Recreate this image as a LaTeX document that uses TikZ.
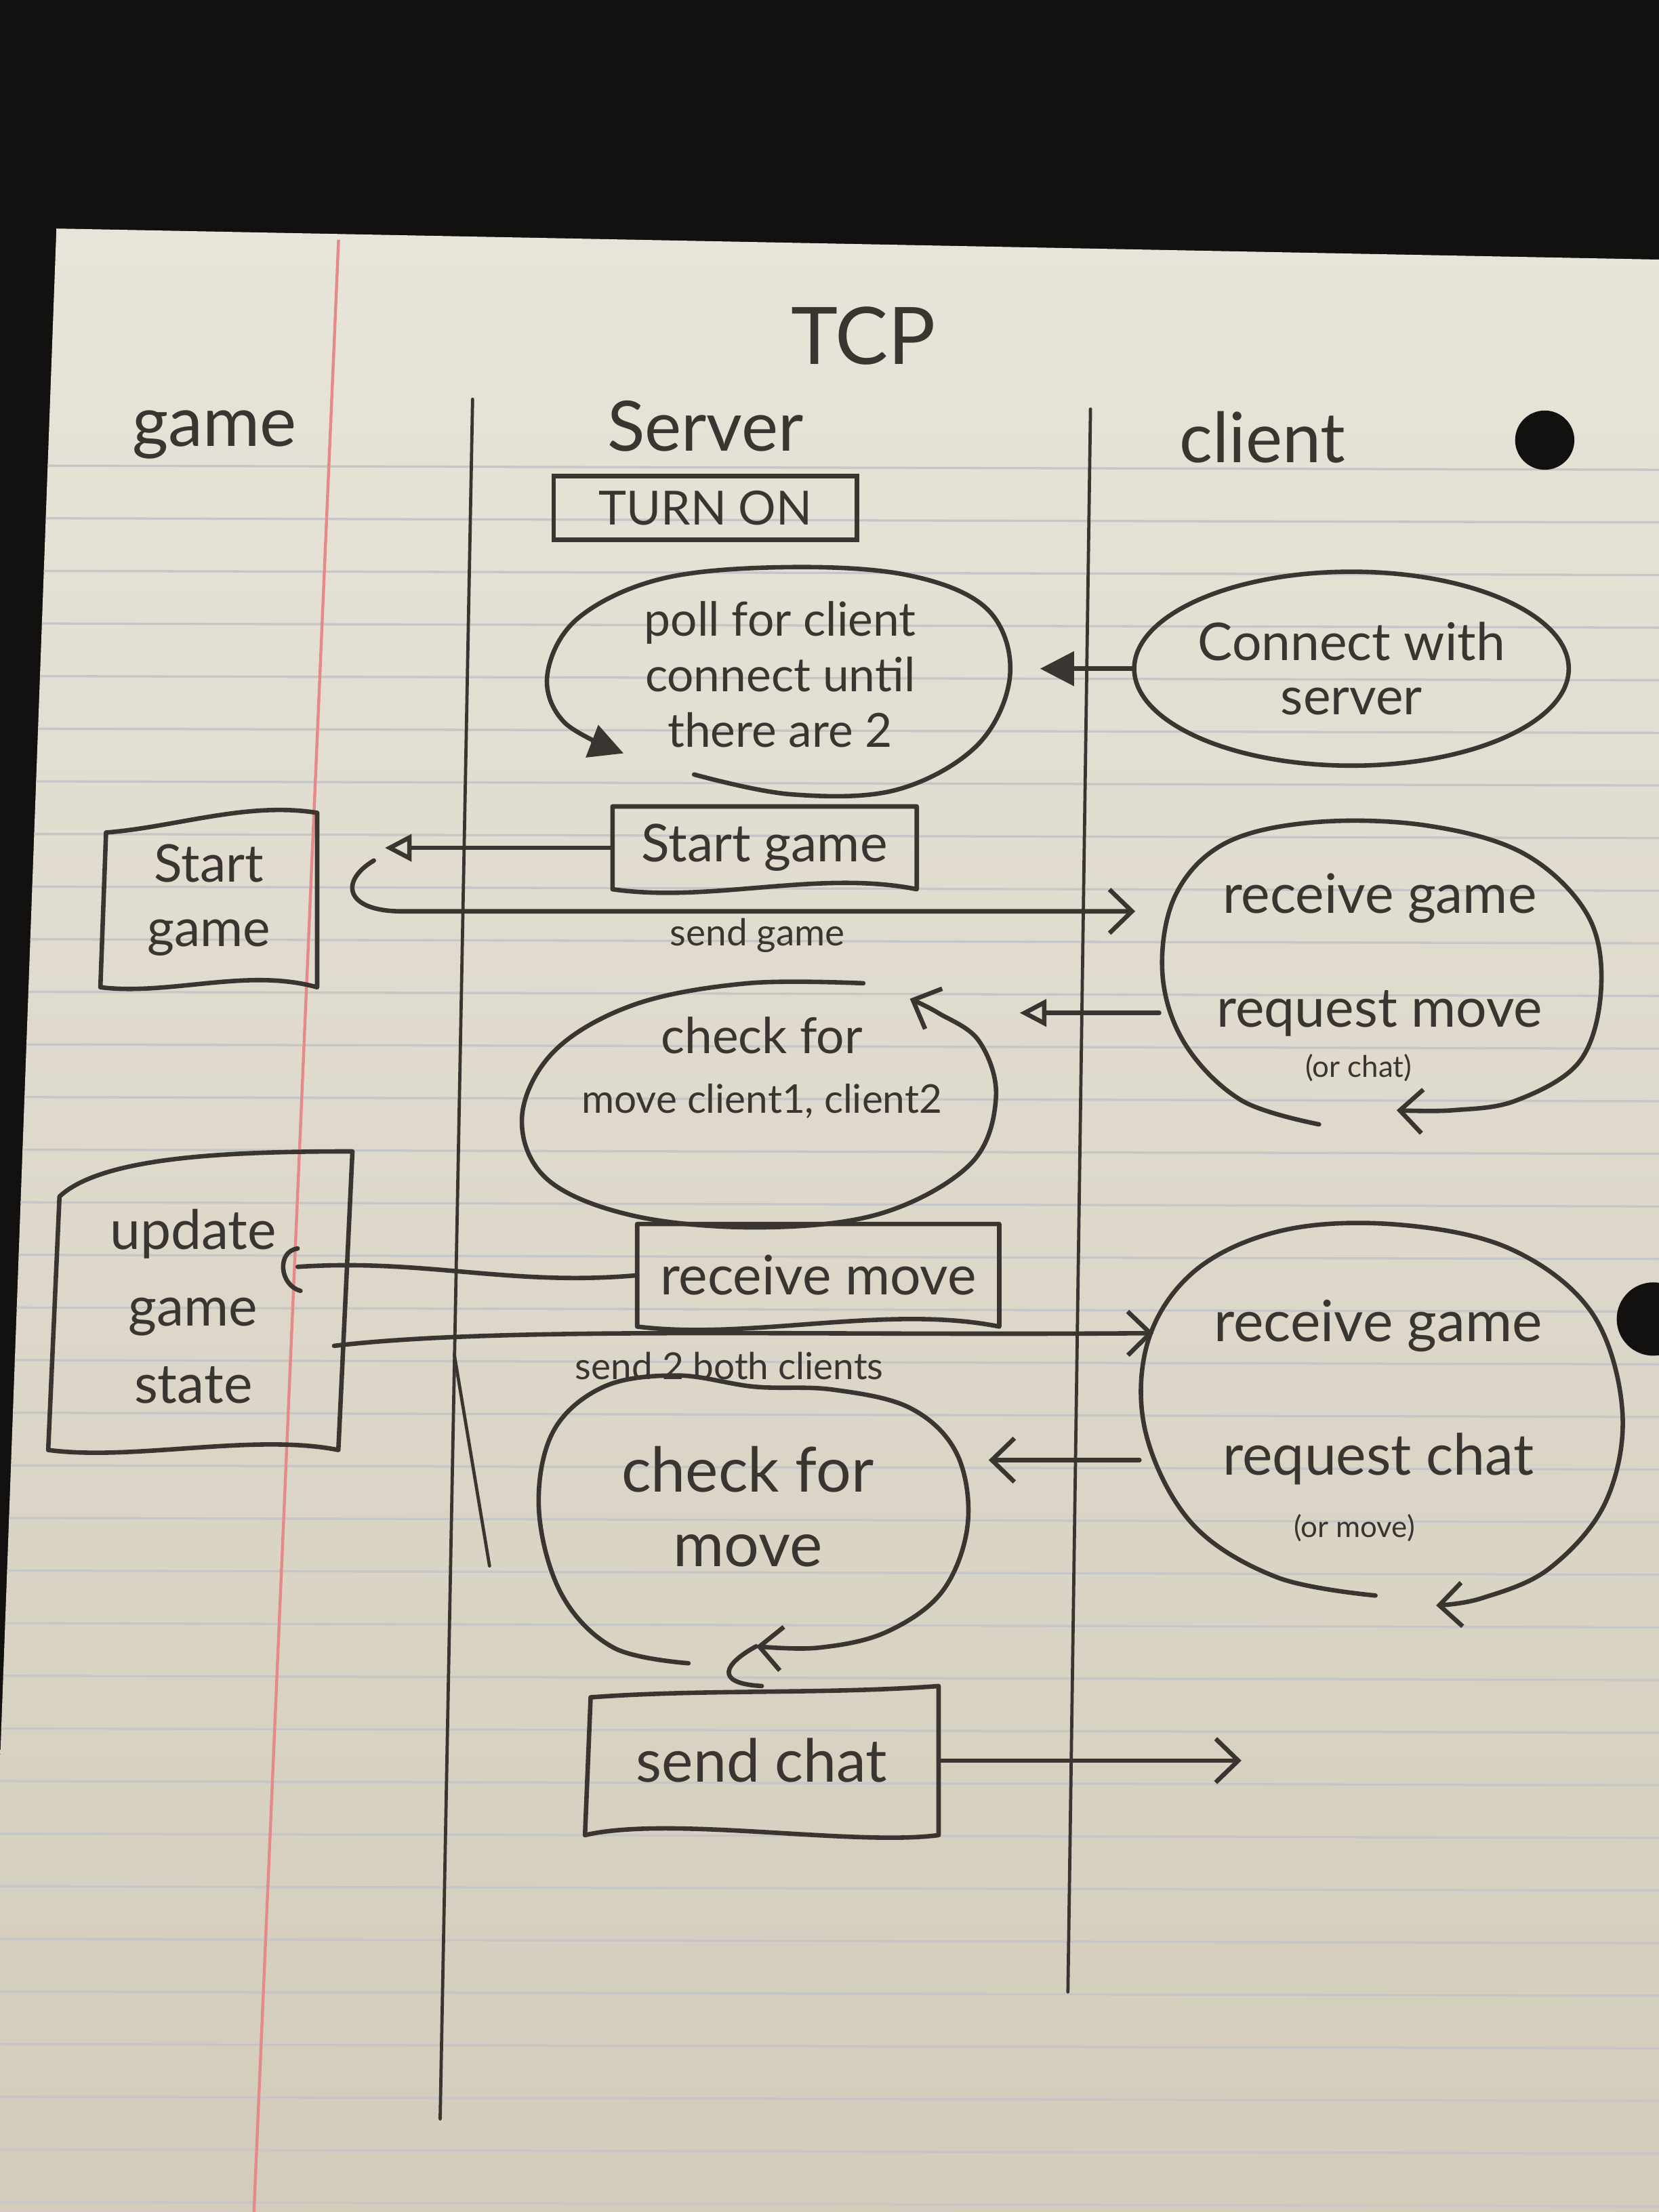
\documentclass[tikz,border=0pt]{standalone}
\usepackage{fontspec}
\setmainfont{Lato}
\usetikzlibrary{arrows.meta,calc,shapes.geometric}
\definecolor{ink}{HTML}{3A3530}
\definecolor{papertop}{HTML}{E7E4D9}
\definecolor{paperbot}{HTML}{D3CCBB}
\definecolor{darkbg}{HTML}{121110}
\definecolor{rulecol}{HTML}{C6C5C8}
\definecolor{margincol}{HTML}{E58A88}
\newcommand{\fsz}[2]{\fontsize{#1}{#2}\selectfont}
\begin{document}
\begin{tikzpicture}[x=0.02cm,y=-0.02cm,
  inkline/.style={draw=ink,line width=1.8pt,line cap=round,line join=round},
  lifeline/.style={draw=ink,line width=1.3pt,line cap=round},
  lbl/.style={text=ink,inner sep=0pt,align=center},
  procbox/.style={rectangle,draw=ink,line width=1.8pt,text=ink,inner sep=0pt,align=center},
  wavybox/.style={rectangle,draw=none,text=ink,inner sep=0pt,align=center},
  loopnode/.style={ellipse,draw=none,inner sep=0pt},
  openhead/.style={-{Straight Barb[length=0.32cm,width=0.62cm]}},
  trihead/.style={-{Triangle[open,length=0.38cm,width=0.38cm]}},
  fillhead/.style={-{Triangle[length=0.48cm,width=0.48cm]}},
  ruleline/.style={draw=rulecol,line width=0.9pt}]
\useasboundingbox (0,0) rectangle (1176,1568);
\clip (0,0) rectangle (1176,1568);
% background and paper
\fill[darkbg] (0,0) rectangle (1176,1568);
\shade[top color=papertop,bottom color=paperbot] (40,162) -- (1176,184) -- (1176,1568) -- (0,1568) -- (0,1250) -- cycle;
\begin{scope}
  \clip (40,162) -- (1176,184) -- (1176,1568) -- (0,1568) -- (0,1250) -- cycle;
  \foreach \k in {0,...,33} \draw[ruleline] (0,{330+37.3*\k}) -- (1176,{333+37.3*\k});
\end{scope}
\draw[margincol,line width=1.2pt] (240,170) -- (180,1568);
% punched holes
\fill[darkbg] (1095,312) circle [radius=0.42cm];
\fill[darkbg] (1172,935) circle [radius=0.52cm];
% lifelines
\draw[lifeline] (335,283) -- (312,1502);
\draw[lifeline] (322,960) -- (347,1110);
\draw[lifeline] (773,290) -- (757,1412);

% headers
\node[lbl,font=\fsz{32pt}{36pt}] (tcp) at (612,238) {TCP};
\node[lbl,font=\fsz{28pt}{32pt}] (hgame) at (152,308) {game};
\node[lbl,font=\fsz{28pt}{32pt}] (hserver) at (500,302) {Server};
\node[lbl,font=\fsz{28pt}{32pt}] (hclient) at (895,310) {client};

% boxes
\node[procbox,minimum width=4.3cm,minimum height=0.9cm,font=\fsz{19pt}{22pt}] (turnon) at (500,360) {TURN ON};
\node[wavybox,minimum width=4.3cm,minimum height=1.16cm,font=\fsz{21pt}{24pt}] (sgS) at (542,601) {Start game};
\node[wavybox,minimum width=3.06cm,minimum height=2.46cm,font=\fsz{21pt}{26pt}] (sgG) at (148,638) {Start\\game};
\node[wavybox,minimum width=4.1cm,minimum height=4.06cm,font=\fsz{22pt}{31pt}] (ugs) at (137,926) {update\\game\\state};
\node[wavybox,minimum width=5.12cm,minimum height=1.44cm,font=\fsz{22pt}{24pt}] (rmv) at (580,904) {receive move};
\node[wavybox,minimum width=5.0cm,minimum height=2.1cm,font=\fsz{24pt}{26pt}] (sch) at (540,1248) {send chat};

% hand-drawn outlines of the boxes
\draw[inkline] (sgS.north west) -- (sgS.north east) -- (sgS.south east) .. controls +(-70,-14) and +(70,10) .. (sgS.south west) -- cycle;
\draw[inkline] (sgG.south west) -- ($(sgG.north west)+(4,14)$) .. controls +(50,-4) and +(-50,-8) .. (sgG.north east) -- (sgG.south east) .. controls +(-50,-14) and +(50,6) .. (sgG.south west);
\draw[inkline] (ugs.south west) -- ($(ugs.north west)+(8,24)$) .. controls +(30,-28) and +(-90,0) .. ($(ugs.north east)+(10,-8)$) -- (ugs.south east) .. controls +(-60,-12) and +(60,8) .. (ugs.south west);
\draw[inkline] (rmv.north west) -- (rmv.north east) -- (rmv.south east) .. controls +(-80,-16) and +(80,10) .. (rmv.south west) -- cycle;
\draw[inkline] (sch.south west) -- ($(sch.north west)+(4,8)$) .. controls +(80,-6) and +(-80,6) .. (sch.north east) -- (sch.south east) .. controls +(-60,8) and +(60,-14) .. (sch.south west);

% ellipse / loop nodes
\node[loopnode,minimum width=6.6cm,minimum height=3.3cm] (poll) at (552,485) {};
\node[lbl,font=\fsz{19pt}{22.5pt}] (pollt) at (553,478) {poll for client\\connect until\\there are 2};
\node[ellipse,draw=ink,line width=1.8pt,minimum width=4.9cm,minimum height=2.75cm,inner sep=0pt,align=center,text=ink,font=\fsz{21pt}{22pt}] (conn) at (958,474) {Connect with\\server};
\node[loopnode,minimum width=6.24cm,minimum height=4.3cm] (rg1) at (978,692) {};
\node[lbl,font=\fsz{22pt}{46pt}] (rg1t) at (978,677) {receive game\\request move};
\node[lbl,font=\fsz{12pt}{14pt}] (rg1n) at (963,757) {(or chat)};
\node[loopnode,minimum width=6.74cm,minimum height=3.56cm] (cm1) at (537,782) {};
\node[lbl,font=\fsz{20pt}{24pt}] (cm1t) at (540,757) {check for\\{\fsz{16pt}{24pt}move client1, client2}};
\node[loopnode,minimum width=6.8cm,minimum height=5.24cm] (rg2) at (978,1000) {};
\node[lbl,font=\fsz{23pt}{54pt}] (rg2t) at (977,987) {receive game\\request chat};
\node[lbl,font=\fsz{12pt}{14pt}] (rg2n) at (960,1083) {(or move)};
\node[loopnode,minimum width=6.1cm,minimum height=4.1cm] (cm2) at (533,1077) {};
\node[lbl,font=\fsz{25pt}{30pt}] (cm2t) at (530,1068) {check for\\move};

% connector labels
\node[lbl,font=\fsz{15pt}{17pt}] (lsg) at (537,663) {send game};
\node[lbl,font=\fsz{15pt}{17pt}] (lsb) at (517,968) {send 2 both clients};

% self loops
\draw[inkline,fillhead] plot[smooth,tension=0.6] coordinates {(492,549) (560,563) (635,560) (693,528) (716,478) (700,432) (645,408) (560,402) (470,410) (410,438) (388,478) (400,512) (442,534)};
\draw[inkline,openhead] plot[smooth,tension=0.6] coordinates {(935,797) (880,780) (840,740) (824,690) (833,635) (868,598) (930,583) (1010,585) (1080,605) (1125,648) (1135,700) (1120,752) (1075,780) (1030,787) (990,787)};
\draw[inkline,openhead] plot[smooth,tension=0.6] coordinates {(612,697) (530,697) (450,712) (393,745) (370,792) (388,836) (450,862) (540,870) (625,860) (688,825) (706,778) (694,738) (665,718) (645,708)};
\draw[inkline,openhead] plot[smooth,tension=0.6] coordinates {(975,1131) (905,1118) (845,1080) (812,1015) (814,950) (848,900) (910,872) (990,868) (1070,885) (1128,930) (1150,1000) (1138,1065) (1098,1112) (1050,1133) (1018,1138)};
\draw[inkline,openhead] plot[smooth,tension=0.6] coordinates {(488,1179) (435,1168) (398,1130) (382,1070) (392,1015) (428,983) (480,975) (535,983) (590,985) (645,998) (678,1030) (686,1080) (668,1128) (628,1157) (580,1168) (536,1167)};

% helper coordinates
\coordinate (sgHook) at (265,610);
\coordinate (sgBend) at (285,646);
\coordinate (rm1) at ($(rg1.west)+(0,26)$);
\coordinate (ugsHook) at (211,898);
\coordinate (ugsOut) at ($(ugs.east)+(-3,28)$);
\coordinate (rg2In) at ($(rg2.west)+(10,-55)$);
\coordinate (rc2) at ($(rg2.west)+(0,35)$);
\coordinate (cm2tip) at (536,1167);
\coordinate (chatOut) at (880,1248);

% connectors
\draw[inkline,fillhead,shorten >=0.4cm] (conn.west) -- (conn.west -| poll.east);
\draw[inkline,trihead,shorten >=0.96cm] (sgS.west) -- (sgS.west -| sgG.east);
\draw[inkline,openhead,shorten >=0.34cm] (sgHook) .. controls +(-25,15) and +(-40,0) .. (sgBend) -- (sgBend -| rg1.west);
\draw[inkline,trihead,shorten >=0.34cm] (rm1) -- (rm1 -| cm1.east);
\draw[inkline] (rmv.west) .. controls +(-90,8) and +(90,-6) .. (ugsHook);
\draw[inkline] ($(ugsHook)+(0,-13)$) .. controls +(-15,2) and +(-15,-4) .. ($(ugsHook)+(2,17)$);
\draw[inkline,openhead] (ugsOut) .. controls +(120,-14) and +(-250,2) .. (rg2In);
\draw[inkline,openhead,shorten >=0.3cm] (rc2) -- (rc2 -| cm2.east);
\draw[inkline] (cm2tip) .. controls +(-22,12) and +(-35,-2) .. (sch.north);
\draw[inkline,openhead] (sch.east) -- (chatOut);
\end{tikzpicture}
\end{document}
